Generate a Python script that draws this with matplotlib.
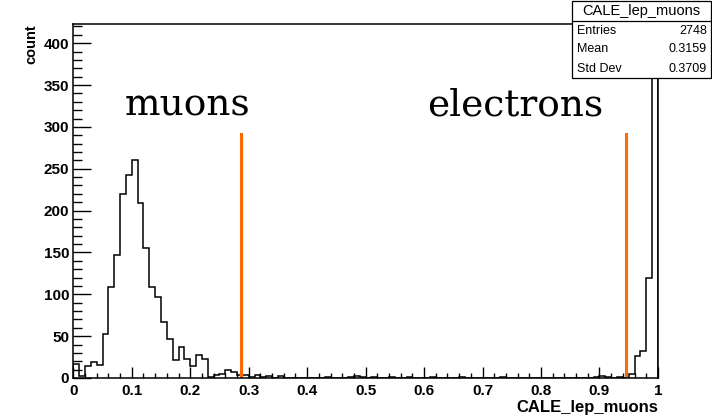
import numpy as np
import matplotlib
matplotlib.use("Agg")
import matplotlib.pyplot as plt
from matplotlib.patches import Rectangle
from matplotlib.ticker import MultipleLocator

# Conteos por bin (100 bins de 0.01 entre 0 y 1)
conteos = [
    17, 2, 14, 19, 15, 53, 109, 147, 220, 243,
    260, 209, 155, 109, 97, 67, 46, 22, 37, 23,
    14, 27, 23, 1, 3, 5, 9, 7, 4, 3,
    1, 3, 1, 2, 0, 2, 0, 0, 0, 0,
    0, 0, 0, 1, 0, 0, 0, 1, 2, 1,
    0, 1, 0, 0, 1, 0, 0, 1, 0, 0,
    0, 1, 0, 0, 0, 0, 1, 0, 0, 0,
    0, 0, 0, 1, 0, 0, 0, 0, 0, 0,
    0, 0, 0, 0, 0, 0, 0, 0, 0, 1,
    2, 1, 0, 1, 0, 5, 26, 32, 119, 403,
]
bordes = np.linspace(0.0, 1.0, 101)

# Cortes (lineas naranjas) y etiquetas
cortes = [0.287, 0.945]
altura_corte = 292
etiquetas = ["muons", "electrons"]
pos_etiquetas = [0.088, 0.605]
altura_etiquetas = 314

# Caja de estadisticas
titulo_stats = "CALE_lep_muons"
nombres_stats = ["Entries", "Mean", "Std Dev"]
valores_stats = ["2748", "0.3159", "0.3709"]


def graficar_histograma():
    fig = plt.figure(figsize=(7.12, 4.18), dpi=100)
    ax = fig.add_axes([0.103, 0.0957, 0.821, 0.847])

    ax.stairs(conteos, bordes, color="black", linewidth=1.1)
    for x in cortes:
        ax.plot([x, x], [0, altura_corte], color="#ff6a00", linewidth=2.2)
    for texto, x in zip(etiquetas, pos_etiquetas):
        ax.text(x, altura_etiquetas, texto, family="DejaVu Serif",
                fontsize=27, ha="left", va="baseline")

    ax.set_xlim(0, 1)
    ax.set_ylim(0, 423)
    ax.xaxis.set_major_locator(MultipleLocator(0.1))
    ax.xaxis.set_minor_locator(MultipleLocator(0.02))
    ax.yaxis.set_major_locator(MultipleLocator(50))
    ax.yaxis.set_minor_locator(MultipleLocator(10))
    ax.set_xticks(np.arange(0, 1.01, 0.1))
    ax.set_xticklabels(["0"] + ["%.1f" % v for v in np.arange(0.1, 0.95, 0.1)] + ["1"])

    ax.tick_params(axis="x", which="major", direction="in", length=7.6, width=1.0, pad=4)
    ax.tick_params(axis="x", which="minor", direction="in", length=3.8, width=1.0)
    ax.tick_params(axis="y", which="major", direction="in", length=12.6, width=1.0, pad=3)
    ax.tick_params(axis="y", which="minor", direction="in", length=6.3, width=1.0)
    for lab in ax.get_xticklabels() + ax.get_yticklabels():
        lab.set_family("Liberation Sans")
        lab.set_fontweight("bold")
        lab.set_fontsize(11)
    for lado in ax.spines.values():
        lado.set_linewidth(1.1)

    ax.set_xlabel("CALE_lep_muons", loc="right", family="Liberation Sans",
                  fontweight="bold", fontsize=12, labelpad=2)
    ax.set_ylabel("count", loc="top", family="Liberation Sans",
                  fontweight="bold", fontsize=10.5, labelpad=4)

    # Caja de estadisticas estilo ROOT
    x0, x1 = 572 / 712, 711 / 712
    y_arr, y_sep, y_ab = 1 - 1 / 418, 1 - 21 / 418, 1 - 78 / 418
    fig.add_artist(Rectangle((x0, y_ab), x1 - x0, y_arr - y_ab, transform=fig.transFigure,
                             facecolor="white", edgecolor="black", linewidth=0.9, zorder=5))
    fig.add_artist(plt.Line2D([x0, x1], [y_sep, y_sep], transform=fig.transFigure,
                              color="black", linewidth=0.9, zorder=6))
    fig.text((x0 + x1) / 2, (y_arr + y_sep) / 2, titulo_stats, family="Liberation Sans",
             fontsize=10.5, ha="center", va="center", zorder=7)
    alto_fila = (y_sep - y_ab) / 3
    for i, (nombre, valor) in enumerate(zip(nombres_stats, valores_stats)):
        y = y_sep - alto_fila * (i + 0.5)
        fig.text(577 / 712, y, nombre, family="Liberation Sans", fontsize=9,
                 ha="left", va="center", zorder=7)
        fig.text(707 / 712, y, valor, family="Liberation Sans", fontsize=9,
                 ha="right", va="center", zorder=7)

    fig.savefig("out.png", dpi=100)


def main():
    graficar_histograma()


if __name__ == "__main__":
    main()
